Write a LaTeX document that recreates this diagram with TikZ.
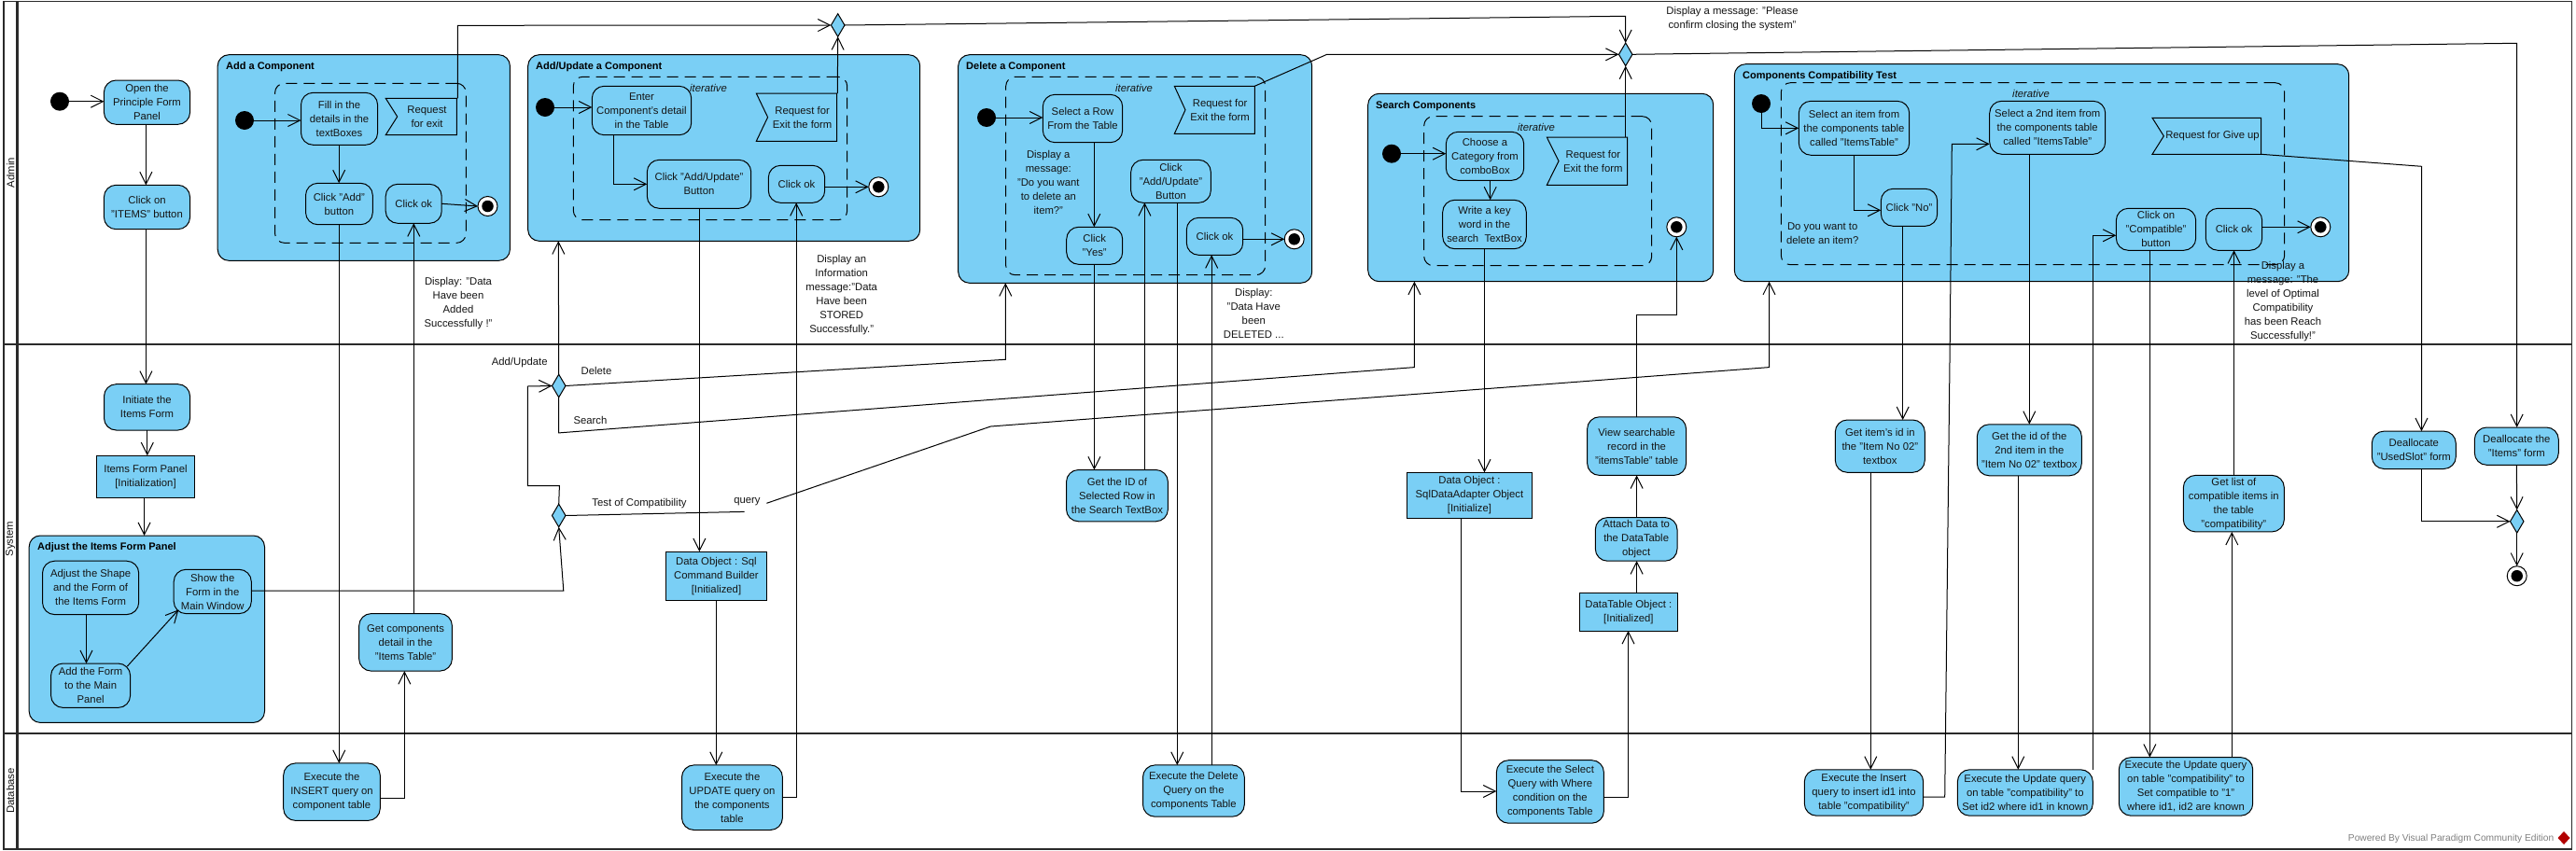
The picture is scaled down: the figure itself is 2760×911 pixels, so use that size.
\documentclass[tikz,border=0pt]{standalone}
\usepackage{fontspec}
\setmainfont{Liberation Sans}
\usetikzlibrary{arrows.meta,shapes.geometric}
\definecolor{vpblue}{HTML}{7ACFF5}
\definecolor{lanegrey}{HTML}{2A2A2A}
\definecolor{lbl}{HTML}{141414}
\tikzset{
  bodytext/.style={font=\fontsize{11.3}{15}\selectfont,align=center,text=lbl},
  act/.style={rectangle,draw=black,fill=vpblue,line width=1pt,rounded corners=13pt,inner sep=0pt,outer sep=0pt,bodytext},
  obj/.style={rectangle,draw=black,fill=vpblue,line width=1pt,inner sep=0pt,outer sep=0pt,bodytext},
  grp/.style={rectangle,draw=black,fill=vpblue,line width=1pt,rounded corners=12pt,inner sep=0pt,outer sep=0pt},
  loopbox/.style={rectangle,draw=black,line width=1pt,dash pattern=on 12pt off 7pt,rounded corners=10pt,inner sep=0pt,outer sep=0pt},
  flagshape/.style={draw=black,fill=vpblue,line width=1pt,line join=miter},
  flagtext/.style={rectangle,inner sep=0pt,outer sep=0pt,bodytext},
  grptitle/.style={anchor=west,inner sep=0pt,font=\fontsize{11}{15}\selectfont\bfseries,text=black},
  note/.style={inner sep=0pt,bodytext},
  iter/.style={inner sep=0pt,font=\fontsize{11.3}{15}\selectfont\itshape,text=lbl},
  startdot/.style={circle,fill=black,minimum size=20pt,inner sep=0pt,outer sep=0pt},
  endring/.style={circle,draw=black,fill=white,line width=1pt,minimum size=21pt,inner sep=0pt,outer sep=0pt},
  enddot/.style={circle,fill=black,minimum size=12.5pt,inner sep=0pt,outer sep=0pt},
  decide/.style={diamond,draw=black,fill=vpblue,line width=1pt,minimum width=14.5pt,minimum height=24.6pt,inner sep=0pt,outer sep=0pt},
  link/.style={line width=1pt,draw=black},
  flow/.style={link,-{Straight Barb[length=13pt,width=13pt,line width=1pt]}},
  lane/.style={line width=1.6pt,draw=lanegrey},
  lanediv/.style={line width=2.6pt,draw=lanegrey},
  lanename/.style={rotate=90,inner sep=0pt,font=\fontsize{11.3}{15}\selectfont,text=lbl},
}
% style, name, x1, y1, x2, y2, text
\newcommand{\NB}[7]{%
  \pgfmathsetmacro{\cxx}{(#3+#5)/2}\pgfmathsetmacro{\cyy}{(#4+#6)/2}%
  \node[#1,minimum width={(#5-#3)*1pt},minimum height={(#6-#4)*1pt}] (#2) at (\cxx,\cyy) {#7};}
% name, x1, y1, x2, y2, notch, text
\newcommand{\NF}[7]{%
  \draw[flagshape] (#2,#3) -- (#4,#3) -- (#4,#5) -- (#2,#5) -- ({#2+#6},{(#3+#5)/2}) -- cycle;
  \pgfmathsetmacro{\cxx}{(#2+#6+#4)/2}\pgfmathsetmacro{\cyy}{(#3+#5)/2}%
  \node[flagtext,minimum width={(#4-#2-#6)*1pt},minimum height={(#5-#3)*1pt}] (#1) at (\cxx,\cyy) {#7};}
% name, x, y
\newcommand{\NE}[3]{%
  \node[endring] (#1) at (#2,#3) {};
  \node[enddot] (#1dot) at (#2,#3) {};}
\begin{document}
\begin{tikzpicture}[x=1pt,y=-1pt]
\useasboundingbox (0,0) rectangle (2760,911);
\fill[white] (0,0) rectangle (2760,911);

% swimlanes
\draw[lane] (4,1.5) rectangle (2755.5,910);
\draw[lanediv] (18.5,1.5) -- (18.5,910);
\draw[lanediv] (4,369) -- (2755.5,369);
\draw[lanediv] (4,786) -- (2755.5,786);
\node[lanename] (laneA) at (11.3,185) {Admin};
\node[lanename] (laneS) at (11,577.5) {System};
\node[lanename] (laneD) at (11,847.5) {Database};

% groups
\NB{grp}{gAdd}{233.2}{58.7}{546.4}{279.3}{}
\NB{loopbox}{lAdd}{294.6}{89.3}{499.3}{260.3}{}
\node[grptitle] (tAdd) at (242,71.3) {Add a Component};
\NB{grp}{gUpd}{565.7}{58.7}{985.7}{258.3}{}
\NB{loopbox}{lUpd}{614.3}{82.3}{907.7}{235.7}{}
\node[grptitle] (tUpd) at (574,71.3) {Add/Update a Component};
\NB{grp}{gDel}{1026.7}{58.7}{1405.7}{303.3}{}
\NB{loopbox}{lDel}{1077.7}{82.3}{1355.7}{294.7}{}
\node[grptitle] (tDel) at (1035,71.3) {Delete a Component};
\NB{grp}{gSea}{1465.7}{100.3}{1835.7}{301.7}{}
\NB{loopbox}{lSea}{1525.7}{124.7}{1769.7}{284.7}{}
\node[grptitle] (tSea) at (1474,113.3) {Search Components};
\NB{grp}{gCmp}{1858.3}{68.7}{2516.7}{301.7}{}
\NB{loopbox}{lCmp}{1908.3}{88.7}{2447.7}{283.7}{}
\node[grptitle] (tCmp) at (1867,81.3) {Components Compatibility Test};
\NB{grp}{gAdj}{31.2}{574}{283.5}{774.4}{}
\node[grptitle] (tAdj) at (40,587) {Adjust the Items Form Panel};

\node[iter] (iUpd) at (759,94.3) {iterative};
\node[iter] (iDel) at (1215,94.3) {iterative};
\node[iter] (iSea) at (1646,136) {iterative};
\node[iter] (iCmp) at (2176,100) {iterative};

% left column
\node[startdot] (s0) at (64,108.7) {};
\NB{act}{open}{111.4}{86}{203.6}{133.3}{Open the\\Principle Form\\Panel}
\NB{act}{items}{111.4}{198.3}{203.6}{245.7}{Click on\\"ITEMS" button}
\NB{act}{init}{111.5}{411.7}{203.6}{461}{Initiate the\\Items Form}
\NB{obj}{panel}{103.2}{488.2}{208.8}{533.4}{Items Form Panel\\{[Initialization]}}
\NB{act}{shape}{45.5}{601.2}{148.7}{658.6}{Adjust the Shape\\and the Form of\\the Items Form}
\NB{act}{addform}{54.6}{711}{139.6}{758.4}{Add the Form\\to the Main\\Panel}
\NB{act}{show}{186.2}{610.3}{269.3}{657.6}{Show the\\Form in the\\Main Window}

% add
\node[startdot] (s1) at (262,129) {};
\NB{act}{fill}{322.5}{99.3}{404.6}{155.3}{Fill in the\\details in the\\textBoxes}
\NF{reqA}{413.2}{105.3}{489.3}{144.7}{12.5}{Request\\for exit}
\NB{act}{clickAdd}{327.5}{196.3}{399.3}{240.7}{Click "Add"\\button}
\NB{act}{okA}{413.2}{197.3}{473.2}{239.3}{Click ok}
\NE{endA}{522.5}{221}
\NB{act}{exIns}{303.7}{817.9}{407.3}{879.4}{Execute the\\INSERT query on\\component table}
\NB{act}{getComp}{384.7}{657.6}{484.4}{719.1}{Get components\\detail in the\\"Items Table"}

% add/update
\node[startdot] (s2) at (584,115) {};
\NB{act}{enter}{634.3}{92.3}{740.7}{144.7}{Enter\\Component's detail\\in the Table}
\NB{act}{clickUpd}{693.3}{171.3}{804.7}{223.3}{Click "Add/Update"\\Button}
\NF{reqU}{810.3}{100}{896.7}{151.3}{12.3}{Request for\\Exit the form}
\NB{act}{okU}{823.3}{177.3}{883.7}{217.3}{Click ok}
\NE{endU}{941.3}{200.3}
\NB{obj}{sqlB}{713.5}{591.1}{821.4}{643.3}{Data Object : Sql\\Command Builder\\{[Initialized]}}
\NB{act}{exUpd}{730.5}{819.9}{838.4}{889.5}{Execute the\\UPDATE query on\\the components\\table}

% delete
\node[startdot] (s3) at (1057,126) {};
\NB{act}{selRow}{1117.3}{101.3}{1202.7}{152.7}{Select a Row\\From the Table}
\NB{act}{yes}{1142.7}{243.3}{1202.7}{283.3}{Click\\"Yes"}
\NB{act}{clickDel}{1211.7}{171.3}{1297.3}{217.3}{Click\\"Add/Update"\\Button}
\NF{reqD}{1258.3}{92.3}{1344.3}{143.3}{11.7}{Request for\\Exit the form}
\NB{act}{okD}{1271.3}{233.3}{1331.7}{273.3}{Click ok}
\NE{endD}{1386.7}{256.3}
\NB{act}{getId}{1142.5}{503.5}{1251.4}{558.8}{Get the ID of\\Selected Row in\\the Search TextBox}
\NB{act}{exDel}{1224.5}{819.9}{1333.3}{875.2}{Execute the Delete\\Query on the\\components Table}

% search
\node[startdot] (s4) at (1491,164.7) {};
\NB{act}{choose}{1549.3}{141.3}{1632.7}{193.3}{Choose a\\Category from\\comboBox}
\NB{act}{write}{1545.7}{214.3}{1635.3}{266.7}{Write a key\\word in the\\search\ \ TextBox}
\NF{reqS}{1657.3}{147}{1743.7}{198.3}{12.7}{Request for\\Exit the form}
\NE{endS}{1796.3}{243.3}
\NB{obj}{adapter}{1507.2}{506.3}{1641.7}{555}{Data Object :\\SqlDataAdapter Object\\{[Initialize]}}
\NB{act}{exSel}{1603.3}{814.7}{1718.4}{882.2}{Execute the Select\\Query with Where\\condition on the\\components Table}
\NB{obj}{dtable}{1692.3}{635.3}{1797.5}{676}{DataTable Object :\\{[Initialized]}}
\NB{act}{attach}{1709.3}{554.6}{1797}{601.2}{Attach Data to\\the DataTable\\object}
\NB{act}{view}{1700.6}{446.8}{1806.6}{509.4}{View searchable\\record in the\\"itemsTable" table}

% compatibility
\node[startdot] (s5) at (1887,111) {};
\NB{act}{sel1}{1927.3}{108.3}{2045.7}{166.3}{Select an item from\\the components table\\called "ItemsTable"}
\NB{act}{no}{2015.3}{202.3}{2075.7}{242.3}{Click "No"}
\NB{act}{sel2}{2131.7}{108.3}{2255.7}{165.3}{Select a 2nd item from\\the components table\\called "ItemsTable"}
\NF{reqC}{2306}{126.3}{2422.7}{165.3}{12.3}{Request for Give up}
\NB{act}{compat}{2267.3}{223.3}{2352.7}{268.3}{Click on\\"Compatible"\\button}
\NB{act}{okC}{2363.3}{223.3}{2423.7}{268.3}{Click ok}
\NE{endC}{2486.3}{243.3}
\NB{act}{getItem}{1966.3}{450}{2062.3}{506.3}{Get item's id in\\the "Item No 02"\\textbox}
\NB{act}{get2}{2118.3}{454.8}{2230.3}{509.8}{Get the id of the\\2nd item in the\\"Item No 02" textbox}
\NB{act}{getList}{2339.3}{509.4}{2447.3}{569.9}{Get list of\\compatible items in\\the table\\"compatibility"}
\NB{act}{exI2}{1933.3}{824.8}{2060.7}{874.2}{Execute the Insert\\query to insert id1 into\\table "compatibility"}
\NB{act}{exU1}{2097.3}{824.8}{2242.3}{874.2}{Execute the Update query\\on table "compatibility" to\\Set id2 where id1 in known}
\NB{act}{exU2}{2270.3}{811.6}{2413.7}{874.2}{Execute the Update query\\on table "compatibility" to\\Set compatible to "1"\\where id1, id2 are known}
\NB{act}{deUsed}{2541.3}{462.1}{2631.3}{502.5}{Deallocate\\"UsedSlot" form}
\NB{act}{deItems}{2651.3}{458}{2741.3}{498.3}{Deallocate the\\"Items" form}
\NE{endAll}{2696.7}{617.2}

% decisions
\node[decide] (dExitA) at (897.7,27) {};
\node[decide] (dExitB) at (1741.7,58.3) {};
\node[decide] (dMenu) at (598.7,413.5) {};
\node[decide] (dTest) at (598.7,552.5) {};
\node[decide] (dMerge) at (2696.7,558.8) {};

% connectors: left column
\draw[flow] (s0.east) -- (open.west |- s0.east);
\draw[flow] (156.4,0 |- open.south) -- (156.4,0 |- items.north);
\draw[flow] (156.4,0 |- items.south) -- (156.4,0 |- init.north);
\draw[flow] (157.8,0 |- init.south) -- (157.8,0 |- panel.north);
\draw[flow] (154.6,0 |- panel.south) -- (154.6,0 |- gAdj.north);
\draw[flow] (92.5,0 |- shape.south) -- (92.5,0 |- addform.north);
\draw[flow] (136.4,714) -- (191.4,653.4);
\draw[flow] (show.east |- 0,633.2) -- (603.8,633.2) -- (dTest.south);
\draw[flow] (dTest.north) -- (599.4,520.6) -- (565.4,520.6) -- (565.4,414) -- (dMenu.west);
\draw[flow] (dMenu.north) -- (598.3,258.3);
\draw[flow] (dMenu.east) -- (1077.3,385.3) -- (1077.3,0 |- gDel.south);
\draw[flow] (dMenu.south) -- (598.7,463.9) -- (1515.4,393.6) -- (1515.4,0 |- gSea.south);
\draw[link] (dTest.east) -- (797.7,548.4);
\draw[flow] (821.4,539.3) -- (1061.4,457) -- (1895.5,393.6) -- (1895.5,0 |- gCmp.south);

% add
\draw[flow] (s1.east) -- (fill.west |- s1.east);
\draw[flow] (363.2,0 |- fill.south) -- (363.2,0 |- clickAdd.north);
\draw[flow] (363.3,0 |- clickAdd.south) -- (363.3,0 |- exIns.north);
\draw[flow] (exIns.east |- 0,855) -- (433.4,855) -- (433.4,0 |- getComp.south);
\draw[flow] (443.3,0 |- getComp.north) -- (443.3,0 |- okA.south);
\draw[flow] (okA.east) -- (endA.west);
\draw[flow] (490.4,0 |- reqA.north) -- (490.4,27.3) -- (dExitA.west);

% add/update
\draw[flow] (s2.east) -- (enter.west |- s2.east);
\draw[flow] (657.3,0 |- enter.south) -- (657.3,197.3) -- (clickUpd.west);
\draw[flow] (749.4,0 |- clickUpd.south) -- (749.4,0 |- sqlB.north);
\draw[flow] (767.3,0 |- sqlB.south) -- (767.3,0 |- exUpd.north);
\draw[flow] (exUpd.east |- 0,854) -- (853.2,854) -- (853.2,0 |- okU.south);
\draw[flow] (okU.east |- 0,200.3) -- (endU.west);
\draw[flow] (897.3,0 |- reqU.north) -- (dExitA.south);

% delete
\draw[flow] (s3.east) -- (selRow.west |- s3.east);
\draw[flow] (1172.3,0 |- selRow.south) -- (1172.3,0 |- yes.north);
\draw[flow] (1172.4,0 |- yes.south) -- (1172.4,0 |- getId.north);
\draw[flow] (1226.4,0 |- getId.north) -- (1226.4,0 |- clickDel.south);
\draw[flow] (1261.3,0 |- clickDel.south) -- (1261.3,0 |- exDel.north);
\draw[flow] (1298.2,0 |- exDel.north) -- (1298.2,0 |- okD.south);
\draw[flow] (okD.east |- 0,256.3) -- (endD.west);
\draw[flow] (reqD.east |- reqD.north) -- (1421.7,58.3) -- (dExitB.west);

% search
\draw[flow] (s4.east) -- (choose.west |- s4.east);
\draw[flow] (1596.7,0 |- choose.south) -- (1596.7,0 |- write.north);
\draw[flow] (1590.5,0 |- write.south) -- (1590.5,0 |- adapter.north);
\draw[flow] (1565.4,0 |- adapter.south) -- (1565.4,848) -- (exSel.west |- 0,848);
\draw[flow] (exSel.east |- 0,854) -- (1744.5,854) -- (1744.5,0 |- dtable.south);
\draw[flow] (1753.6,0 |- dtable.north) -- (1753.6,0 |- attach.south);
\draw[flow] (1753.6,0 |- attach.north) -- (1753.6,0 |- view.south);
\draw[flow] (1753.5,0 |- view.north) -- (1753.5,337.3) -- (1796.3,337.3) -- (endS.south);
\draw[flow] (1741.7,0 |- reqS.north) -- (dExitB.south);

% exits
\draw[flow] (dExitA.east) -- (1510,20) -- (1741.7,17.3) -- (dExitB.north);
\draw[flow] (dExitB.east) -- (2696.7,46.3) -- (2696.7,0 |- deItems.north);
\draw[flow] (reqC.south east) -- (2594.5,178.3) -- (2594.5,0 |- deUsed.north);

% compatibility
\draw[flow] (s5.south) -- (1887,137.3) -- (sel1.west |- 0,137.3);
\draw[flow] (1986.7,0 |- sel1.south) -- (1986.7,225.3) -- (no.west |- 0,225.3);
\draw[flow] (2038.7,0 |- no.south) -- (2038.7,0 |- getItem.north);
\draw[flow] (2004.3,0 |- getItem.south) -- (2004.3,0 |- exI2.north);
\draw[flow] (exI2.east |- 0,854) -- (2083.7,854) -- (2089.2,369) -- (2091.3,154.3) -- (sel2.west |- 0,154.3);
\draw[flow] (2174.3,0 |- sel2.south) -- (2174.3,0 |- get2.north);
\draw[flow] (2162.3,0 |- get2.south) -- (2162.3,0 |- exU1.north);
\draw[flow] (2242.3,0 |- exU1.north) -- (2242.3,252.3) -- (compat.west |- 0,252.3);
\draw[flow] (2303.3,0 |- compat.south) -- (2303.3,0 |- exU2.north);
\draw[flow] (2391.3,0 |- exU2.north) -- (2391.3,0 |- getList.south);
\draw[flow] (2393.5,0 |- getList.north) -- (2393.5,0 |- okC.south);
\draw[flow] (okC.east |- 0,243.3) -- (endC.west);
\draw[flow] (2594.7,0 |- deUsed.south) -- (2594.7,558.8) -- (dMerge.west);
\draw[flow] (deItems.south) -- (dMerge.north);
\draw[flow] (dMerge.south) -- (endAll.north);

% connector labels
\node[note] (nA) at (491,324.7) {Display: "Data\\Have been\\Added\\Successfully !"};
\node[note] (nU) at (901.7,315.8) {Display an\\Information\\message:"Data\\Have been\\STORED\\Successfully."};
\node[note] (nDq) at (1123.3,195) {Display a\\message:\\"Do you want\\to delete an\\item?"};
\node[note] (nD) at (1343.3,335.8) {Display:\\"Data Have\\been\\DELETED ...};
\node[note] (nCq) at (1952.7,249.7) {Do you want to\\delete an item?};
\node[note] (nC) at (2446,322.8) {Display a\\message: "The\\level of Optimal\\Compatibility\\has been Reach\\Successfully!"};
\node[note] (nE) at (1856,19.8) {Display a message: "Please\\confirm closing the system"};
\node[note] (lAU) at (556.7,389) {Add/Update};
\node[note] (lDel) at (639,397.5) {Delete};
\node[note] (lSea) at (632.4,450) {Search};
\node[note] (lTest) at (685,539.7) {Test of Compatibility};
\node[note] (lQ) at (800.5,538) {query};

% watermark
\node[inner sep=0pt,anchor=east,font=\fontsize{10.2}{12}\selectfont,text=black!50] (wm) at (2736.5,898.5) {Powered By Visual Paradigm Community Edition};
\fill[red!70!black] (2747,891) -- (2753.5,898) -- (2747,905) -- (2740.5,898) -- cycle;
\end{tikzpicture}
\end{document}
